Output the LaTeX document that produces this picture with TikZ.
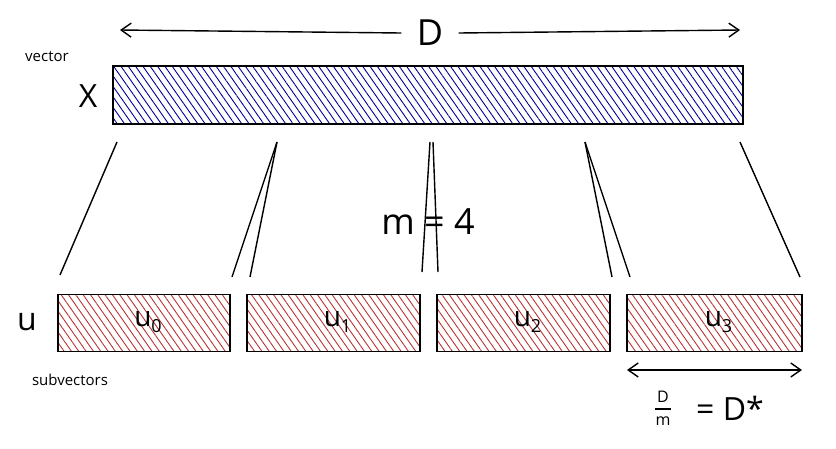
\documentclass[tikz,border=0pt]{standalone}
\usepackage{fontspec}
\setmainfont{Open Sans}
\usetikzlibrary{patterns.meta,arrows.meta}
\begin{document}
\begin{tikzpicture}[x=1pt,y=-1pt,
  bluebar/.style={draw=black,line width=1.5pt,pattern={Lines[angle=-55,distance=6pt,line width=0.9pt]},pattern color=blue!60!black},
  redbar/.style={draw=black,line width=1.5pt,pattern={Lines[angle=-55,distance=6pt,line width=0.9pt]},pattern color=red!65!black!80},
  ln/.style={line width=1.4pt},
  arr/.style={line width=1.4pt,-{Straight Barb[length=10pt,width=14pt]}},
  big/.style={font=\fontsize{36}{38}\selectfont},
  mid/.style={font=\fontsize{32}{34}\selectfont},
  lab/.style={font=\fontsize{28}{30}\selectfont},
  small/.style={font=\fontsize{15}{16}\selectfont}]
\useasboundingbox (0,0) rectangle (836,448);
\node[big] (D) at (430,33) {D};
\coordinate (al) at (120,30); \coordinate (ar) at (740,30);
\draw[arr] (D.west) ++(-12,0) -- (al);
\draw[arr] (D.east) ++(12,0) -- (ar);
\node[bluebar,minimum width=630pt,minimum height=58pt,inner sep=0] (X) at (428,95) {};
\node[small] (vec) at (47,57) {vector};
\node[mid] (xl) at (88,96) {X};
\foreach \n/\a/\b in {0/58/230,1/247/420,2/437/610,3/627/802}{
  \node[redbar,minimum width={\b-\a},minimum height=57pt,inner sep=0] (u\n) at ({(\a+\b)/2},323) {};
  \node[lab] (ul\n) at ({(\a+\b)/2+4},322) {u\raisebox{-6pt}{\fontsize{18}{18}\selectfont\n}};
}
\node[mid] (ul) at (27,322) {u};
\node[small] (sub) at (70,380) {subvectors};
\node[big] (m) at (428,222) {m = 4};
\coordinate (t0) at (117,142); \coordinate (t1) at (277,142); \coordinate (t2) at (430,142);
\coordinate (t2b) at (433,142); \coordinate (t3) at (585,142); \coordinate (t4) at (740,142);
\coordinate (b0) at (60,275); \coordinate (b1) at (232,277); \coordinate (b1b) at (250,277);
\coordinate (b2) at (422,272); \coordinate (b2b) at (438,272);
\coordinate (b3) at (612,277); \coordinate (b3b) at (630,277); \coordinate (b4) at (800,277);
\draw[ln] (t0)--(b0); \draw[ln] (t1)--(b1); \draw[ln] (t1)--(b1b);
\draw[ln] (t2)--(b2); \draw[ln] (t2b)--(b2b);
\draw[ln] (t3)--(b3); \draw[ln] (t3)--(b3b); \draw[ln] (t4)--(b4);
\coordinate (dl) at (627,370); \coordinate (dr) at (802,370);
\draw[line width=1.4pt,{Straight Barb[length=10pt,width=14pt]}-{Straight Barb[length=10pt,width=14pt]}] (dl)--(dr);
\node[font=\fontsize{16}{16}\selectfont,inner sep=1pt] (fn) at (663,397) {D};
\node[font=\fontsize{16}{16}\selectfont,inner sep=1pt] (fd) at (663,421) {m};
\coordinate (fl) at (655,409); \coordinate (fr) at (671,409);
\draw[line width=1.2pt] (fl)--(fr);
\node[mid] (frac) at (730,408) {= D*};
\end{tikzpicture}
\end{document}
